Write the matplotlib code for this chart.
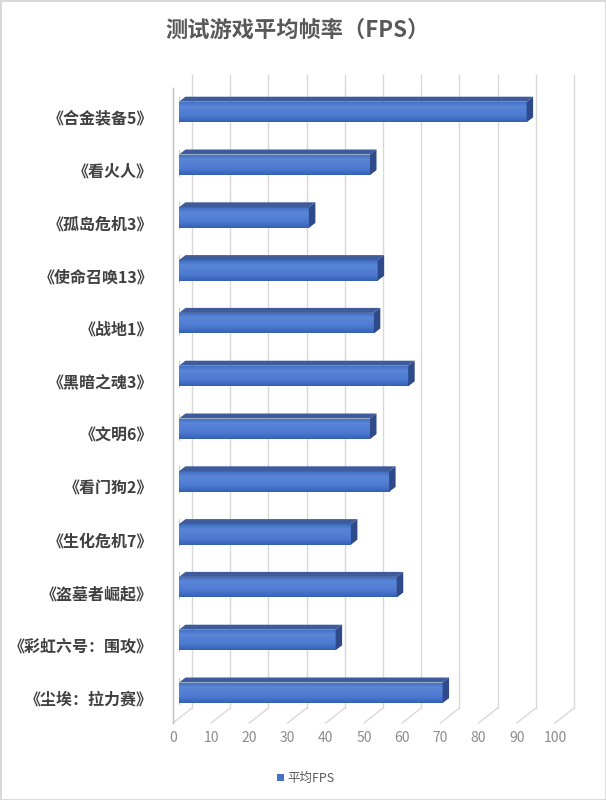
import matplotlib
matplotlib.use('Agg')
import matplotlib.pyplot as plt
import numpy as np
from matplotlib.patches import Polygon, Rectangle, Patch
from matplotlib.colors import LinearSegmentedColormap

plt.rcParams['font.family'] = ['Noto Sans CJK SC', 'DejaVu Sans']

# ---------------- data ----------------
title = '测试游戏平均帧率（FPS）'
games = ['《合金装备5》', '《看火人》', '《孤岛危机3》', '《使命召唤13》', '《战地1》',
         '《黑暗之魂3》', '《文明6》', '《看门狗2》', '《生化危机7》', '《盗墓者崛起》',
         '《彩虹六号：围攻》', '《尘埃：拉力赛》']
fps = [91, 50, 34, 52, 51, 60, 50, 55, 45, 57, 41, 69]
x_ticks = [0, 10, 20, 30, 40, 50, 60, 70, 80, 90, 100]
series_name = '平均FPS'

# ---------------- layout (pixels) ----------------
W, H = 606, 800
AX_L, AX_R, AX_T, AX_B = 179, 561, 75, 723   # bar front-face plane
FIRST_C, PITCH = 112, 52.8                     # bar centre pixel, spacing
FRONT = (-6, 4.7)    # front plane offset (px right, px down)
BACK = (13, -10.3)   # back wall offset
DEPTH = (6.5, -5)    # bar depth offset
BAR_H = 0.39

fig = plt.figure(figsize=(W / 100, H / 100), dpi=100)
fig.patch.set_facecolor('white')
fig.patch.set_edgecolor('#d9d9d9')
fig.patch.set_linewidth(2)

ax = fig.add_axes([AX_L / W, 1 - AX_B / H, (AX_R - AX_L) / W, (AX_B - AX_T) / H])
xmin, xmax = x_ticks[0], x_ticks[-1]
ylo = (AX_B - FIRST_C) / PITCH
yhi = (AX_T - FIRST_C) / PITCH
ax.set_xlim(xmin, xmax)
ax.set_ylim(ylo, yhi)
ax.axis('off')

pxx = (AX_R - AX_L) / (xmax - xmin)
pxy = PITCH


def dx(p):
    return p / pxx


def dy(p):
    return p / pxy


grid_c = '#d9d9d9'
floor_front_y = ylo
floor_back_y = ylo + dy(BACK[1] - FRONT[1])
for t in x_ticks:
    # back wall gridline
    ax.plot([t + dx(BACK[0]), t + dx(BACK[0])], [floor_back_y, yhi],
            color=grid_c, lw=1, clip_on=False, zorder=1)
    # floor gridline
    ax.plot([t + dx(FRONT[0]), t + dx(BACK[0])], [floor_front_y, floor_back_y],
            color=grid_c, lw=1, clip_on=False, zorder=1)
    ax.text(t + dx(FRONT[0]), (738 - FIRST_C) / PITCH, str(t), ha='center', va='center',
            fontsize=10, color='#8c8c8c', clip_on=False)

# front-left vertical edge
ax.plot([dx(FRONT[0]), dx(FRONT[0])], [floor_front_y, (88 - FIRST_C) / PITCH],
        color='#bfbfbf', lw=1, clip_on=False, zorder=1)

cmap = LinearSegmentedColormap.from_list(
    'face', [(0, '#3f6cc0'), (0.25, '#5a86d8'), (0.7, '#4c7ad0'), (1, '#3560b4')])
grad = np.linspace(0, 1, 64).reshape(-1, 1)

for i, v in enumerate(fps):
    top = i - BAR_H / 2
    bot = i + BAR_H / 2
    ddx, ddy = dx(DEPTH[0]), dy(DEPTH[1])
    # shadow at left end
    ax.add_patch(Rectangle((dx(-4), top + ddy), dx(5), BAR_H - ddy + dy(2),
                           facecolor='#8c8c8c', edgecolor='none', alpha=0.45, zorder=2))
    bars = ax.barh(i, v, height=BAR_H, left=0, color='#4472c4', edgecolor='none', zorder=3)
    rect = bars[0]
    im = ax.imshow(grad, cmap=cmap, extent=(0, v, bot, top), aspect='auto',
                   origin='upper', zorder=3.5, interpolation='bilinear')
    im.set_clip_path(rect)
    # top face
    ax.add_patch(Polygon([(0, top), (v, top), (v + ddx, top + ddy), (ddx, top + ddy)],
                         closed=True, facecolor='#3e5c9c', edgecolor='none', zorder=4))
    # right side face
    ax.add_patch(Polygon([(v, top), (v + ddx, top + ddy), (v + ddx, bot + ddy), (v, bot)],
                         closed=True, facecolor='#2e4a8a', edgecolor='none', zorder=4))
    # category label on front plane
    ax.text(dx(153 - AX_L), i + dy(FRONT[1] + 2), games[i], ha='right', va='center',
            fontsize=11.5, fontweight='bold', color='#404040', clip_on=False)

ax.set_xlim(xmin, xmax)
ax.set_ylim(ylo, yhi)

fig.text(298 / W, 1 - 30 / H, title, ha='center', va='center', fontsize=16,
         fontweight='bold', color='#595959')

fig.legend(handles=[Patch(facecolor='#4472c4')], labels=[series_name], loc='center',
           bbox_to_anchor=(306 / W, 1 - 778 / H), frameon=False, handlelength=0.5,
           handleheight=0.5, handletextpad=0.3, fontsize=9, labelcolor='#595959')

fig.savefig('out.png', dpi=100)
